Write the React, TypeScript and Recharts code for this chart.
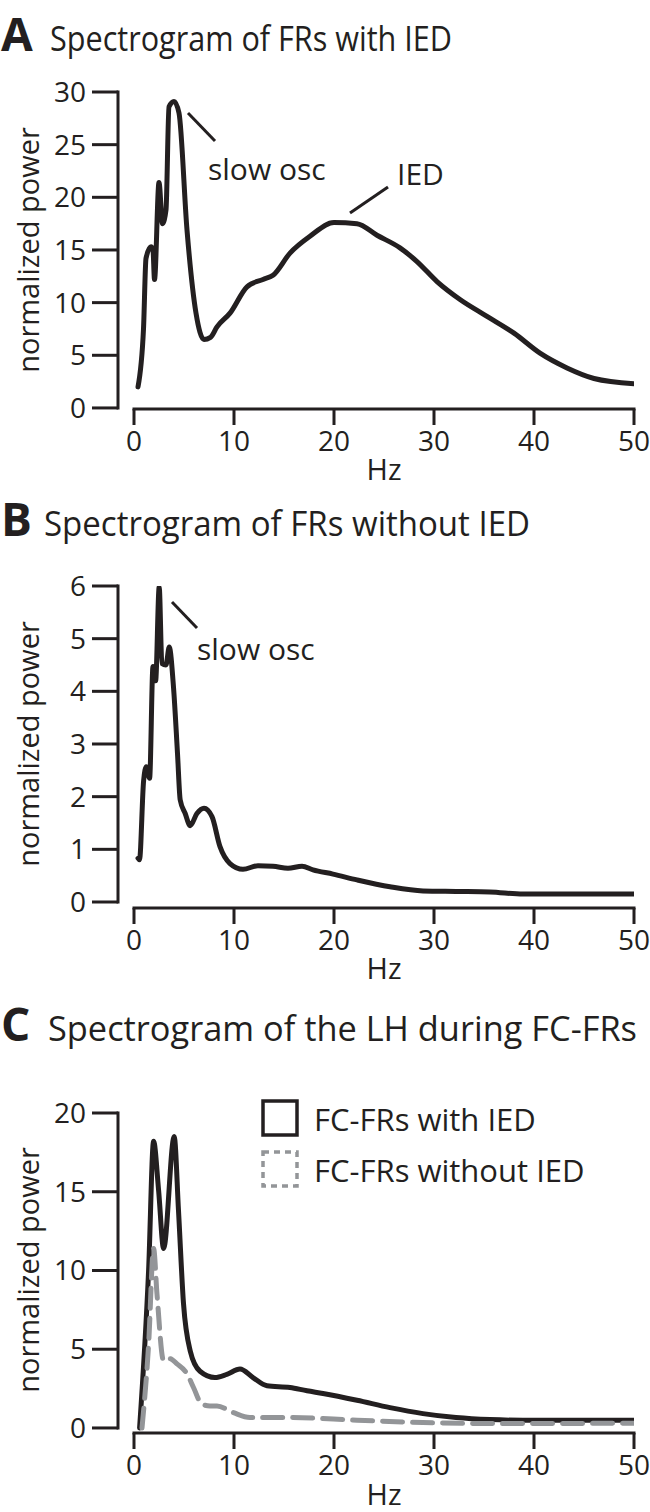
import { LineChart, Line, XAxis, YAxis, ReferenceLine, Legend } from "recharts";

const INK = "#231f20";
const GREY = "#939598";
const FONT = "'Open Sans', sans-serif";

const hzTicks = [0, 10, 20, 30, 40, 50];
const X_MIN = -1.6; // y axis sits a little left of 0 Hz

// A: FRs with IED
const hzA = [0.4, 0.95, 1.2, 1.7, 1.9, 2.05, 2.5, 2.85, 3.2, 3.5, 4.0, 4.5, 5.3, 6.2, 7.0, 7.65, 8.3, 9.6, 11.3, 12.9, 13.9, 15.6, 17.6, 20.0, 22.3, 24.3, 26.6, 28.3, 30.3, 32.6, 35.3, 38.0, 40.6, 43.3, 46.0, 50.0];
const powA = [2.0, 7.5, 14.2, 15.3, 15.0, 12.2, 21.4, 17.5, 18.8, 28.6, 29.1, 28.0, 16.9, 9.0, 6.5, 6.7, 7.7, 9.0, 11.5, 12.2, 12.6, 14.7, 16.3, 17.6, 17.5, 16.4, 15.2, 13.9, 12.0, 10.3, 8.7, 7.1, 5.2, 3.8, 2.8, 2.3];
const yTicksA = [0, 5, 10, 15, 20, 25, 30];

// B: FRs without IED
const hzB = [0.4, 0.55, 0.96, 1.23, 1.56, 1.9, 2.16, 2.52, 2.79, 3.2, 3.52, 3.95, 4.35, 4.62, 5.12, 5.62, 6.29, 7.0, 7.8, 8.6, 9.6, 10.9, 12.4, 13.9, 15.4, 16.8, 17.9, 19.9, 22.3, 25.6, 28.9, 32.2, 35.6, 38.9, 42.2, 50.0];
const powB = [0.83, 0.8, 2.3, 2.57, 2.35, 4.47, 4.2, 5.98, 4.53, 4.5, 4.84, 4.08, 2.82, 1.94, 1.68, 1.45, 1.68, 1.78, 1.62, 1.05, 0.73, 0.62, 0.69, 0.68, 0.64, 0.68, 0.61, 0.53, 0.42, 0.29, 0.21, 0.2, 0.19, 0.15, 0.15, 0.15];
const yTicksB = [0, 1, 2, 3, 4, 5, 6];

// C: LH during FC-FRs
const hzCwith = [0.56, 1.46, 1.96, 2.46, 2.96, 4.02, 4.45, 4.95, 5.62, 6.6, 8.1, 9.28, 10.6, 11.9, 13.3, 15.6, 17.3, 18.9, 22.3, 25.6, 28.9, 32.2, 35.6, 38.9, 50.0];
const powCwith = [0, 10.0, 18.2, 15.1, 11.4, 18.5, 13.8, 7.9, 4.9, 3.6, 3.2, 3.4, 3.74, 3.2, 2.68, 2.57, 2.36, 2.19, 1.76, 1.29, 0.91, 0.66, 0.53, 0.49, 0.49];
const hzCwithout = [0.8, 1.46, 1.96, 2.3, 2.96, 3.6, 4.3, 5.3, 5.95, 6.8, 7.6, 8.3, 9.9, 11.6, 15.6, 22.3, 28.9, 35.6, 50.0];
const powCwithout = [0, 5.3, 11.4, 8.5, 4.27, 4.4, 4.07, 3.44, 2.57, 1.5, 1.4, 1.4, 0.98, 0.66, 0.66, 0.49, 0.34, 0.28, 0.3];
const yTicksC = [0, 5, 10, 15, 20];

const zip = (hz: number[], p: number[]) => hz.map((h, i) => ({ hz: h, p: p[i] }));

const tickStyle = { fill: INK, fontSize: 28, fontFamily: FONT };

type Series = { name: string; data: { hz: number; p: number }[]; color: string; dash?: string };

function Panel({
  top,
  height,
  plotTop,
  plotBottom,
  yMin,
  yMax,
  yTicks,
  series,
  legendTop,
}: {
  top: number;
  height: number;
  plotTop: number;
  plotBottom: number;
  yMin: number;
  yMax: number;
  yTicks: number[];
  series: Series[];
  legendTop?: number;
}) {
  const margin = { top: plotTop - top, right: 16, left: 18, bottom: top + height - plotBottom - 50 };
  return (
    <div style={{ position: "absolute", top, left: 0 }}>
      <LineChart width={650} height={height} margin={margin}>
        <XAxis
          type="number"
          dataKey="hz"
          domain={[X_MIN, 50]}
          ticks={hzTicks}
          interval={0}
          allowDataOverflow
          axisLine={false}
          tickLine={{ stroke: INK, strokeWidth: 3 }}
          tickSize={16}
          tickMargin={6}
          tick={tickStyle}
          height={50}
        />
        <YAxis
          type="number"
          domain={[yMin, yMax]}
          ticks={yTicks}
          interval={0}
          allowDataOverflow
          axisLine={false}
          tickLine={{ stroke: INK, strokeWidth: 3 }}
          tickSize={26}
          tickMargin={6}
          tick={tickStyle}
          width={100}
        />
        <ReferenceLine
          segment={[{ x: 0, y: yMin }, { x: 50, y: yMin }]}
          stroke={INK}
          strokeWidth={3}
          strokeLinecap="square"
        />
        <ReferenceLine
          segment={[{ x: X_MIN, y: 0 }, { x: X_MIN, y: yMax }]}
          stroke={INK}
          strokeWidth={3}
          strokeLinecap="square"
        />
        {legendTop !== undefined && (
          <Legend
            layout="horizontal"
            verticalAlign="middle"
            align="center"
            wrapperStyle={{ top: legendTop - top - 9, left: 260, width: 385 }}
            content={() => (
              <div style={{ fontFamily: FONT, fontSize: 31, color: INK }}>
                {series.map((s) => (
                  <div key={s.name} style={{ display: "flex", alignItems: "center", height: 51 }}>
                    <svg width={41} height={41} style={{ marginRight: 13, flexShrink: 0 }}>
                      <rect
                        x={3}
                        y={3}
                        width={34}
                        height={34}
                        fill="none"
                        stroke={s.color}
                        strokeWidth={3.5}
                        strokeDasharray={s.dash ? "6 5" : undefined}
                      />
                    </svg>
                    <span>{s.name}</span>
                  </div>
                ))}
              </div>
            )}
          />
        )}
        {series.map((s) => (
          <Line
            key={s.name}
            name={s.name}
            data={s.data}
            dataKey="p"
            type="monotone"
            stroke={s.color}
            strokeWidth={5}
            strokeDasharray={s.dash}
            strokeLinecap="round"
            strokeLinejoin="round"
            dot={false}
            activeDot={false}
            isAnimationActive={false}
          />
        ))}
      </LineChart>
    </div>
  );
}

function Labels() {
  const title = { fontFamily: FONT, fontSize: 35, fill: INK };
  const letter = { fontFamily: FONT, fontSize: 46, fontWeight: 700, fill: INK };
  const label = { fontFamily: FONT, fontSize: 29, fill: INK };
  const note = { fontFamily: FONT, fontSize: 30, fill: INK };
  const yLabel = (cy: number) => (
    <text x={39} y={cy} transform={`rotate(-90 39 ${cy})`} textAnchor="middle" style={label}>
      normalized power
    </text>
  );
  return (
    <svg width={650} height={1512} style={{ position: "absolute", top: 0, left: 0, pointerEvents: "none" }}>
      <text x={1} y={51} style={letter}>A</text>
      <text x={50} y={51} style={title} textLength={402} lengthAdjust="spacingAndGlyphs">
        Spectrogram of FRs with IED
      </text>
      <text x={1} y={536} style={letter}>B</text>
      <text x={44} y={536} style={title} textLength={486} lengthAdjust="spacingAndGlyphs">
        Spectrogram of FRs without IED
      </text>
      <text x={1} y={1041} style={letter}>C</text>
      <text x={48} y={1041} style={title} textLength={589} lengthAdjust="spacingAndGlyphs">
        Spectrogram of the LH during FC-FRs
      </text>

      {yLabel(250)}
      {yLabel(744)}
      {yLabel(1270)}

      <text x={384} y={480} textAnchor="middle" style={label}>Hz</text>
      <text x={384} y={979} textAnchor="middle" style={label}>Hz</text>
      <text x={384} y={1505} textAnchor="middle" style={label}>Hz</text>

      <line x1={188} y1={113} x2={215} y2={141} stroke={INK} strokeWidth={3} />
      <text x={208} y={180} style={note}>slow osc</text>
      <line x1={350} y1={213} x2={388} y2={187} stroke={INK} strokeWidth={3} />
      <text x={397} y={185} style={note}>IED</text>

      <line x1={172} y1={602} x2={197} y2={628} stroke={INK} strokeWidth={3} />
      <text x={197} y={660} style={note}>slow osc</text>
    </svg>
  );
}

export default function App() {
  return (
    <div style={{ position: "absolute", top: 0, left: 0, width: 650, height: 1512, background: "#fff", overflow: "hidden" }}>
      <Panel
        top={60}
        height={440}
        plotTop={92}
        plotBottom={409}
        yMin={-0.1}
        yMax={30}
        yTicks={yTicksA}
        series={[{ name: "FRs with IED", data: zip(hzA, powA), color: INK }]}
      />
      <Panel
        top={560}
        height={440}
        plotTop={586}
        plotBottom={908}
        yMin={-0.114}
        yMax={6}
        yTicks={yTicksB}
        series={[{ name: "FRs without IED", data: zip(hzB, powB), color: INK }]}
      />
      <Panel
        top={1075}
        height={437}
        plotTop={1113}
        plotBottom={1433}
        yMin={-0.32}
        yMax={20}
        yTicks={yTicksC}
        legendTop={1102}
        series={[
          { name: "FC-FRs with IED", data: zip(hzCwith, powCwith), color: INK },
          { name: "FC-FRs without IED", data: zip(hzCwithout, powCwithout), color: GREY, dash: "20 10" },
        ]}
      />
      <Labels />
    </div>
  );
}
